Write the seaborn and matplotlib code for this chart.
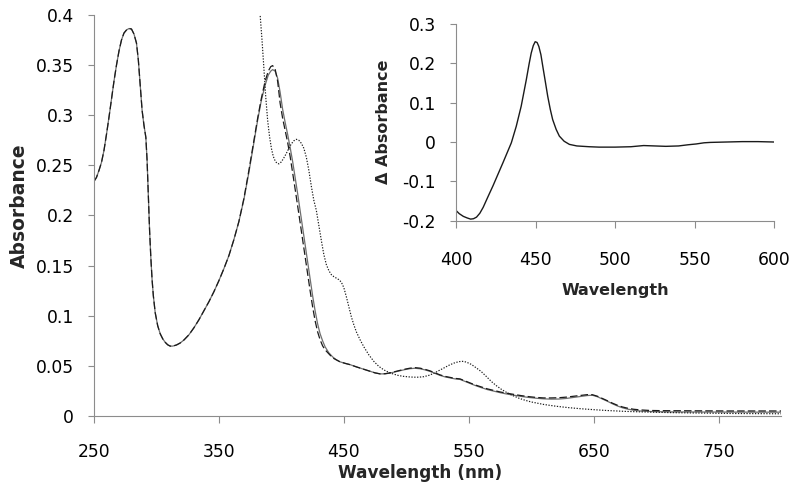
import matplotlib
matplotlib.use("Agg")
import matplotlib.pyplot as plt
import seaborn as sns
import pandas as pd

# ---------------- data ----------------
wl_dashed = [250, 252, 254, 256, 258, 260, 262, 264, 266, 268, 270, 272, 274, 276, 278, 280, 282, 284,
             285.5, 287, 288.5, 290, 291.5, 292.5, 293.5, 294.5, 295.5, 296.5, 297.5, 299, 301, 303, 305,
             307, 309, 311, 313, 316, 319, 322, 326, 330, 334, 338, 342, 346, 350, 354, 358, 362, 366,
             370, 374, 378, 381, 384, 387, 389.5, 391.5, 393, 395, 397, 399, 401, 403, 405, 407, 409,
             411, 413, 415, 417, 419, 421, 423, 425, 427, 429, 431, 433, 435, 438, 441, 444, 447, 451,
             455, 460, 465, 470, 475, 479, 483, 487, 491, 495, 499, 503, 507, 511, 515, 519, 523, 527,
             531, 535, 539, 543, 547, 551, 555, 560, 565, 570, 575, 580, 586, 592, 598, 604, 610, 616,
             622, 628, 634, 640, 645, 649, 653, 657, 661, 665, 669, 673, 677, 682, 688, 695, 705, 720,
             740, 760, 780, 800]
abs_dashed = [.234, .238, .245, .253, .265, .281, .298, .316, .334, .350, .364, .375, .382, .385, .3865,
              .386, .381, .372, .355, .330, .305, .290, .278, .255, .220, .185, .158, .136, .120, .103,
              .090, .082, .077, .0735, .071, .0697, .0697, .0708, .0728, .0758, .081, .088, .096, .105,
              .114, .124, .135, .147, .160, .176, .194, .217, .245, .275, .297, .317, .334, .344, .3485,
              .3495, .346, .334, .312, .297, .285, .273, .259, .243, .2265, .210, .193, .176, .159, .142,
              .125, .109, .095, .084, .076, .070, .066, .062, .058, .056, .054, .0525, .0512, .049, .047,
              .045, .043, .042, .0422, .043, .0443, .0455, .0467, .0477, .0482, .0477, .0465, .045, .043,
              .041, .0395, .0385, .0375, .037, .035, .033, .031, .029, .027, .0255, .024, .0228, .0215,
              .0203, .0193, .0185, .018, .018, .0182, .0188, .0197, .0207, .0213, .0212, .0197, .0175,
              .0152, .0128, .0107, .009, .0078, .0067, .006, .0055, .0053, .0052, .0051, .005, .005, .005]

wl_solid = wl_dashed
abs_solid = [.234, .238, .245, .253, .265, .281, .298, .316, .334, .350, .364, .375, .382, .385, .3865,
             .386, .381, .372, .355, .330, .305, .290, .278, .255, .220, .185, .158, .136, .120, .103,
             .090, .082, .077, .0735, .071, .0697, .0697, .0708, .0728, .0758, .081, .088, .096, .105,
             .114, .124, .135, .147, .160, .176, .194, .216, .243, .273, .295, .315, .330, .340, .344,
             .3455, .344, .337, .323, .306, .293, .281, .268, .254, .238, .222, .205, .188, .171, .154,
             .137, .120, .105, .092, .082, .075, .069, .063, .059, .056, .054, .0525, .0512, .049, .047,
             .045, .043, .042, .042, .0428, .044, .0452, .0463, .0472, .0476, .0471, .046, .0445, .0425,
             .0405, .039, .038, .037, .0365, .0345, .0325, .0305, .0283, .0263, .0248, .0233, .022, .0207,
             .0195, .0185, .0177, .0171, .0168, .0169, .0175, .0185, .0196, .0204, .0207, .0192, .0170,
             .0147, .0122, .0100, .0082, .0069, .0057, .0049, .0045, .0042, .004, .0039, .0039, .0038, .0038]

wl_dotted = [380, 381.5, 383, 384.5, 386, 387.5, 389, 390.5, 392, 393.5, 395, 396.5, 398, 400, 402, 404,
             406, 408, 410, 412, 414, 416, 418, 420, 422, 424, 426, 428, 430, 432, 434, 436, 438, 440,
             442, 444, 446, 448, 450, 452, 454, 456, 458, 460, 463, 466, 470, 474, 478, 482, 486, 490,
             494, 498, 502, 506, 510, 514, 518, 522, 526, 530, 534, 538, 542, 545, 548, 552, 556, 560,
             564, 568, 572, 576, 580, 585, 590, 595, 600, 610, 620, 630, 640, 650, 660, 675, 690, 710,
             730, 760, 800]
abs_dotted = [.44, .42, .40, .375, .347, .318, .295, .279, .267, .259, .2545, .252, .2515, .2535, .2575,
              .262, .267, .2715, .2745, .276, .275, .272, .267, .258, .245, .229, .215, .205, .190, .175,
              .161, .151, .145, .141, .139, .1375, .136, .1335, .128, .119, .109, .099, .091, .084, .076,
              .069, .061, .0545, .0495, .046, .0435, .0417, .0403, .0395, .039, .0387, .0387, .0392,
              .0405, .0425, .0452, .0478, .0505, .0527, .0542, .0545, .0538, .0515, .048, .0443, .0395,
              .0345, .0303, .0267, .0237, .0205, .0178, .0157, .014, .0115, .0097, .0083, .0072, .0063,
              .0055, .0046, .004, .0034, .003, .0025, .0022]

wl_diff = [400, 402, 404.6, 407, 409.2, 411, 412.9, 415, 417.1, 420, 423.3, 426.5, 429.6, 432.2, 434.8,
           437.9, 441, 444.2, 446, 447.3, 448.6, 449.8, 451, 452.1, 453.4, 454.6, 456.2, 457.7, 459.3,
           460.8, 463, 465, 468, 471.3, 476, 483.8, 490, 500, 510, 518, 525, 532, 540, 546, 551, 556,
           560, 570, 580, 590, 600]
diff = [-.174, -.182, -.189, -.193, -.196, -.195, -.191, -.181, -.166, -.140, -.111, -.081, -.052, -.027,
        -.002, .040, .091, .158, .199, .226, .245, .255, .253, .243, .222, .192, .153, .116, .083,
        .057, .032, .015, .002, -.006, -.010, -.012, -.013, -.013, -.012, -.009, -.010, -.011, -.010,
        -.007, -.005, -.002, -.001, .000, .001, .001, .000]

x_ticks = [250, 350, 450, 550, 650, 750]
y_ticks = [0, 0.05, 0.1, 0.15, 0.2, 0.25, 0.3, 0.35, 0.4]
y_tick_labels = ["0", "0.05", "0.1", "0.15", "0.2", "0.25", "0.3", "0.35", "0.4"]
inset_x_ticks = [400, 450, 500, 550, 600]
inset_y_ticks = [-0.2, -0.1, 0, 0.1, 0.2, 0.3]
inset_y_labels = ["-0.2", "-0.1", "0", "0.1", "0.2", "0.3"]

# ---------------- style ----------------
sns.set_style("ticks")
plt.rcParams["font.family"] = ["DejaVu Sans"]
plt.rcParams["axes.linewidth"] = 0.8

AX_GREY = "#8c8c8c"
TICK_FS = 12.3

fig = plt.figure(figsize=(8, 5.01), dpi=100)
ax = fig.add_axes([0.1175, 0.1697, 0.8588, 0.8004])

df_solid = pd.DataFrame({"wl": wl_solid, "a": abs_solid})
df_dashed = pd.DataFrame({"wl": wl_dashed, "a": abs_dashed})
df_dotted = pd.DataFrame({"wl": wl_dotted, "a": abs_dotted})

sns.lineplot(data=df_solid, x="wl", y="a", ax=ax, color="#6e6e6e", linewidth=0.9, sort=False)
sns.lineplot(data=df_dashed, x="wl", y="a", ax=ax, color="#1a1a1a", linewidth=0.9,
             linestyle=(0, (6, 2.5)), sort=False)
sns.lineplot(data=df_dotted, x="wl", y="a", ax=ax, color="#1a1a1a", linewidth=0.85,
             linestyle=(0, (1.1, 1.3)), sort=False)

ax.set_xlim(250, 800)
ax.set_ylim(0, 0.4)
ax.set_xticks(x_ticks)
ax.set_xticklabels([str(t) for t in x_ticks])
ax.set_yticks(y_ticks)
ax.set_yticklabels(y_tick_labels)
for s in ["top", "right"]:
    ax.spines[s].set_visible(False)
for s in ["left", "bottom"]:
    ax.spines[s].set_color(AX_GREY)
ax.tick_params(axis="x", direction="out", length=5, width=0.8, color=AX_GREY, pad=14.5,
               labelsize=TICK_FS, labelcolor="black")
ax.tick_params(axis="y", direction="out", length=4.5, width=0.8, color=AX_GREY, pad=10,
               labelsize=TICK_FS, labelcolor="black")
ax.set_xlabel("Wavelength (nm)", fontsize=12.2, fontweight="bold")
ax.set_ylabel("Absorbance", fontsize=13.5, fontweight="bold")
ax.xaxis.set_label_coords(0.4745, -0.12)
ax.yaxis.set_label_coords(-0.0946, 0.524)

# ---------------- inset ----------------
ins = fig.add_axes([0.57, 0.5595, 0.3975, 0.3926])
ins.set_facecolor("white")
df_diff = pd.DataFrame({"wl": wl_diff, "d": diff})
sns.lineplot(data=df_diff, x="wl", y="d", ax=ins, color="#1a1a1a", linewidth=1.0, sort=False)
ins.set_xlim(400, 600)
ins.set_ylim(-0.2, 0.3)
ins.set_xticks(inset_x_ticks)
ins.set_xticklabels([str(t) for t in inset_x_ticks])
ins.set_yticks(inset_y_ticks)
ins.set_yticklabels(inset_y_labels)
for s in ["top", "right"]:
    ins.spines[s].set_visible(False)
for s in ["left", "bottom"]:
    ins.spines[s].set_color(AX_GREY)
ins.tick_params(axis="x", direction="out", length=5, width=0.8, color=AX_GREY, pad=17,
                labelsize=TICK_FS, labelcolor="black")
ins.tick_params(axis="y", direction="out", length=4.5, width=0.8, color=AX_GREY, pad=10,
                labelsize=TICK_FS, labelcolor="black")
ins.set_xlabel("Wavelength", fontsize=11.5, fontweight="bold")
ins.set_ylabel("\u0394 Absorbance", fontsize=11.5, fontweight="bold")
ins.xaxis.set_label_coords(0.5, -0.318)
ins.yaxis.set_label_coords(-0.204, 0.505)

fig.savefig("out.png", dpi=100)
